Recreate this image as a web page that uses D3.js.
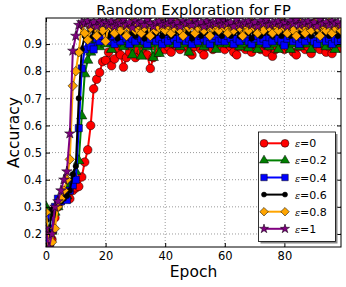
<!DOCTYPE html>
<html>
<head>
<meta charset="utf-8">
<script src="https://cdn.jsdelivr.net/npm/d3@7"></script>
<style>
  body { margin: 0; background: #fff; }
  text { font-family: "DejaVu Sans", sans-serif; }
</style>
</head>
<body>
<script>
// accuracy per epoch (0..99)
var epsLabels = ["0", "0.2", "0.4", "0.6", "0.8", "1"];
var xTicks = [0, 20, 40, 60, 80];
var yTicks = [0.2, 0.3, 0.4, 0.5, 0.6, 0.7, 0.8, 0.9];

var acc0 = [0.22,0.16,0.18,0.26,0.30,0.32,0.34,0.35,0.33,0.36,0.37,0.375,0.41,0.465,0.51,0.60,0.735,0.77,0.795,0.835,
  0.84,0.87,0.82,0.845,0.88,0.86,0.815,0.85,0.87,0.89,0.85,0.88,0.87,0.90,0.86,0.81,0.85,0.89,0.87,0.90,
  0.88,0.89,0.87,0.90,0.89,0.88,0.90,0.89,0.87,0.86,0.89,0.90,0.88,0.86,0.89,0.90,0.88,0.89,0.90,0.89,
  0.88,0.90,0.89,0.87,0.86,0.89,0.90,0.88,0.89,0.87,0.90,0.89,0.88,0.90,0.87,0.89,0.855,0.88,0.90,0.89,
  0.88,0.89,0.90,0.87,0.86,0.89,0.90,0.88,0.89,0.865,0.90,0.89,0.88,0.90,0.87,0.89,0.865,0.90,0.89,0.885];
var acc02 = [0.30,0.17,0.21,0.28,0.30,0.33,0.35,0.34,0.38,0.40,0.43,0.47,0.635,0.79,0.84,0.87,0.90,0.91,0.89,0.91,
  0.90,0.91,0.88,0.91,0.90,0.92,0.89,0.91,0.90,0.86,0.91,0.90,0.855,0.91,0.89,0.90,0.85,0.91,0.865,0.92,
  0.91,0.90,0.92,0.90,0.91,0.89,0.90,0.91,0.87,0.90,0.91,0.90,0.92,0.89,0.90,0.91,0.90,0.88,0.91,0.90,
  0.91,0.90,0.92,0.90,0.91,0.89,0.90,0.91,0.885,0.90,0.91,0.88,0.90,0.91,0.90,0.89,0.91,0.90,0.88,0.91,
  0.90,0.91,0.88,0.90,0.91,0.89,0.90,0.91,0.90,0.88,0.91,0.90,0.92,0.90,0.89,0.91,0.90,0.88,0.91,0.90];
var acc04 = [0.26,0.18,0.22,0.30,0.33,0.32,0.355,0.325,0.36,0.38,0.40,0.59,0.81,0.88,0.92,0.89,0.88,0.92,0.91,0.93,
  0.92,0.91,0.93,0.90,0.92,0.91,0.93,0.92,0.90,0.92,0.91,0.93,0.92,0.91,0.90,0.92,0.93,0.91,0.92,0.90,
  0.92,0.91,0.93,0.92,0.90,0.92,0.93,0.91,0.92,0.90,0.92,0.91,0.93,0.92,0.91,0.90,0.92,0.93,0.91,0.92,
  0.91,0.93,0.92,0.90,0.92,0.91,0.93,0.92,0.91,0.90,0.92,0.93,0.91,0.92,0.90,0.925,0.91,0.93,0.92,0.91,
  0.895,0.92,0.93,0.91,0.92,0.90,0.92,0.91,0.93,0.92,0.91,0.90,0.92,0.93,0.91,0.92,0.90,0.92,0.91,0.92];
var acc06 = [0.25,0.20,0.29,0.27,0.30,0.32,0.33,0.34,0.36,0.42,0.45,0.70,0.88,0.93,0.94,0.92,0.95,0.93,0.94,0.95,
  0.94,0.93,0.95,0.94,0.92,0.95,0.94,0.93,0.95,0.94,0.93,0.95,0.94,0.92,0.94,0.95,0.93,0.94,0.95,0.93,
  0.94,0.95,0.93,0.94,0.95,0.94,0.93,0.95,0.94,0.92,0.94,0.95,0.93,0.94,0.95,0.93,0.94,0.95,0.94,0.93,
  0.95,0.94,0.93,0.94,0.95,0.93,0.94,0.95,0.94,0.92,0.94,0.95,0.93,0.94,0.95,0.94,0.93,0.95,0.94,0.93,
  0.94,0.95,0.93,0.94,0.95,0.94,0.93,0.95,0.94,0.93,0.95,0.94,0.93,0.95,0.94,0.93,0.95,0.94,0.93,0.94];
var acc08 = [0.28,0.16,0.17,0.22,0.30,0.33,0.36,0.40,0.475,0.746,0.80,0.87,0.97,0.94,0.915,0.96,0.97,0.93,0.98,0.95,
  0.91,0.97,0.96,0.94,0.98,0.95,0.97,0.93,0.96,0.98,0.95,0.97,0.94,0.96,0.98,0.93,0.97,0.95,0.96,0.98,
  0.95,0.97,0.94,0.96,0.98,0.95,0.93,0.97,0.96,0.98,0.94,0.96,0.97,0.95,0.98,0.93,0.96,0.97,0.95,0.98,
  0.96,0.94,0.97,0.95,0.98,0.96,0.93,0.97,0.95,0.98,0.96,0.94,0.97,0.95,0.98,0.96,0.94,0.97,0.95,0.98,
  0.96,0.94,0.97,0.95,0.93,0.98,0.96,0.94,0.97,0.95,0.98,0.96,0.93,0.97,0.95,0.98,0.94,0.96,0.97,0.95];
var acc1 = [0.22,0.15,0.20,0.30,0.32,0.36,0.40,0.43,0.57,0.875,0.93,0.97,0.98,0.975,0.985,0.97,0.98,0.965,0.985,0.975,
  0.98,0.97,0.985,0.965,0.98,0.975,0.99,0.97,0.98,0.96,0.985,0.975,0.98,0.97,0.99,0.975,0.965,0.98,0.985,0.97,
  0.98,0.975,0.99,0.97,0.98,0.965,0.985,0.975,0.98,0.97,0.99,0.975,0.98,0.965,0.985,0.97,0.98,0.975,0.99,0.97,
  0.985,0.975,0.98,0.965,0.99,0.97,0.98,0.975,0.985,0.97,0.98,0.965,0.985,0.975,0.99,0.97,0.98,0.975,0.985,0.97,
  0.98,0.965,0.985,0.975,0.99,0.97,0.98,0.975,0.985,0.97,0.98,0.965,0.99,0.975,0.98,0.97,0.985,0.975,0.98,0.97];

var allSeries = [acc0, acc02, acc04, acc06, acc08, acc1];
var colors = ["#ff0000", "#008000", "#0000ff", "#000000", "#ffa500", "#800080"];
var shapes = [d3.symbolCircle, d3.symbolTriangle, d3.symbolSquare, d3.symbolCircle, d3.symbolSquare, d3.symbolStar];
var sizes = [58, 46, 52, 24, 46, 34];
var legendSizes = [48, 36, 42, 20, 36, 26];
var rotations = [0, 0, 0, 0, 45, 0];

var W = 346, H = 287;
var margin = {top: 18, right: 5, bottom: 40, left: 46};

var svg = d3.select("body").append("svg")
  .attr("width", W)
  .attr("height", H);

var x = d3.scaleLinear().domain([0, 99]).range([margin.left, W - margin.right]);
var y = d3.scaleLinear().domain([0.152, 0.996]).range([H - margin.bottom, margin.top]);

// grid
svg.append("g").selectAll("line").data(xTicks).enter().append("line")
  .attr("x1", d => x(d)).attr("x2", d => x(d))
  .attr("y1", y.range()[1]).attr("y2", y.range()[0])
  .attr("stroke", "#555").attr("stroke-width", 0.6).attr("stroke-dasharray", "1,2");
svg.append("g").selectAll("line").data(yTicks).enter().append("line")
  .attr("y1", d => y(d)).attr("y2", d => y(d))
  .attr("x1", x.range()[0]).attr("x2", x.range()[1])
  .attr("stroke", "#555").attr("stroke-width", 0.6).attr("stroke-dasharray", "1,2");

// clip for data
svg.append("clipPath").attr("id", "plotclip").append("rect")
  .attr("x", margin.left).attr("y", margin.top)
  .attr("width", W - margin.left - margin.right)
  .attr("height", H - margin.top - margin.bottom);

var line = d3.line().x((d, i) => x(i)).y(d => y(d));
var plot = svg.append("g").attr("clip-path", "url(#plotclip)");

allSeries.forEach(function(vals, k) {
  var g = plot.append("g");
  g.append("path").datum(vals)
    .attr("d", line)
    .attr("fill", "none")
    .attr("stroke", colors[k])
    .attr("stroke-width", 2);
  g.selectAll("path.m").data(vals).enter().append("path")
    .attr("class", "m")
    .attr("d", d3.symbol().type(shapes[k]).size(sizes[k]))
    .attr("transform", (d, i) => "translate(" + x(i) + "," + y(d) + ") rotate(" + rotations[k] + ")")
    .attr("fill", colors[k])
    .attr("stroke", "#000")
    .attr("stroke-width", 0.5);
});

// axes: ticks inward on all sides
var fmt = d3.format(".1f");
var axBottom = svg.append("g").attr("transform", "translate(0," + y.range()[0] + ")")
  .call(d3.axisBottom(x).tickValues(xTicks).tickSizeInner(-4).tickSizeOuter(0).tickPadding(5));
var axTop = svg.append("g").attr("transform", "translate(0," + y.range()[1] + ")")
  .call(d3.axisTop(x).tickValues(xTicks).tickSizeInner(-4).tickSizeOuter(0).tickFormat(""));
var axLeft = svg.append("g").attr("transform", "translate(" + x.range()[0] + ",0)")
  .call(d3.axisLeft(y).tickValues(yTicks).tickSizeInner(-4).tickSizeOuter(0).tickFormat(fmt).tickPadding(4));
var axRight = svg.append("g").attr("transform", "translate(" + x.range()[1] + ",0)")
  .call(d3.axisRight(y).tickValues(yTicks).tickSizeInner(-4).tickSizeOuter(0).tickFormat(""));
[axBottom, axTop, axLeft, axRight].forEach(function(a) {
  a.select(".domain").remove();
  a.selectAll("text").attr("font-family", "DejaVu Sans").attr("font-size", "11.5px").attr("fill", "#000");
});

svg.append("rect")
  .attr("x", margin.left).attr("y", margin.top)
  .attr("width", W - margin.left - margin.right)
  .attr("height", H - margin.top - margin.bottom)
  .attr("fill", "none").attr("stroke", "#000").attr("stroke-width", 1);

// title and labels
svg.append("text").attr("x", (x.range()[0] + x.range()[1]) / 2).attr("y", 15)
  .attr("text-anchor", "middle").attr("font-size", "14.6px").text("Random Exploration for FP");
svg.append("text").attr("x", (x.range()[0] + x.range()[1]) / 2).attr("y", 277)
  .attr("text-anchor", "middle").attr("font-size", "15.5px").text("Epoch");
svg.append("text").attr("transform", "translate(19," + (y.range()[0] + y.range()[1]) / 2 + ") rotate(-90)")
  .attr("text-anchor", "middle").attr("font-size", "15.5px").text("Accuracy");

// legend
var lx = 258.5, ly = 132, lw = 77, lh = 109.5;
svg.append("rect").attr("x", lx + 2).attr("y", ly + 2).attr("width", lw).attr("height", lh).attr("fill", "#888");
svg.append("rect").attr("x", lx).attr("y", ly).attr("width", lw).attr("height", lh)
  .attr("fill", "#fff").attr("stroke", "#000").attr("stroke-width", 0.8);
var legend = svg.append("g").selectAll("g").data(epsLabels).enter().append("g")
  .attr("transform", (d, i) => "translate(0," + (143.3 + i * 17.1) + ")");
legend.append("line").attr("x1", 264).attr("x2", 285).attr("y1", 0).attr("y2", 0)
  .attr("stroke", (d, i) => colors[i]).attr("stroke-width", 2);
[264, 285].forEach(function(mx) {
  legend.append("path")
    .attr("d", (d, i) => d3.symbol().type(shapes[i]).size(legendSizes[i])())
    .attr("transform", (d, i) => "translate(" + mx + ",0) rotate(" + rotations[i] + ")")
    .attr("fill", (d, i) => colors[i])
    .attr("stroke", "#000").attr("stroke-width", 0.5);
});
var lt = legend.append("text").attr("x", 295).attr("y", 4).attr("font-size", "11px");
lt.append("tspan").attr("font-style", "italic").attr("font-family", "DejaVu Serif").attr("font-size", "9.5px").text("ε");
lt.append("tspan").text(d => "=" + d);
</script>
</body>
</html>
